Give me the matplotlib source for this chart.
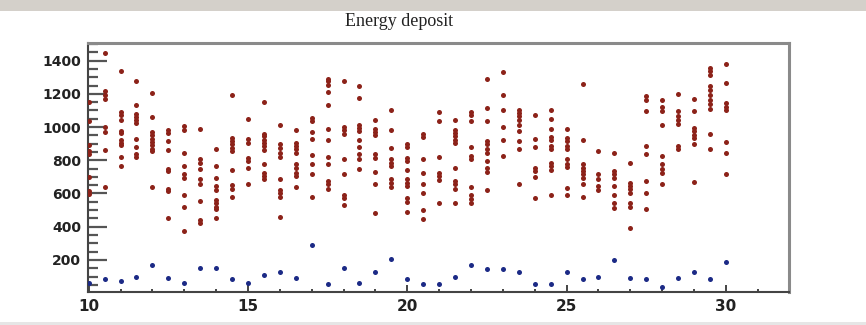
import matplotlib.pyplot as plt
from matplotlib.ticker import MultipleLocator
from matplotlib.patches import Rectangle

# beam position for each column of measurements
x_pos = [10.0, 10.5, 11.0, 11.5, 12.0, 12.5, 13.0, 13.5, 14.0, 14.5,
         15.0, 15.5, 16.0, 16.5, 17.0, 17.5, 18.0, 18.5, 19.0, 19.5,
         20.0, 20.5, 21.0, 21.5, 22.0, 22.5, 23.0, 23.5, 24.0, 24.5,
         25.0, 25.5, 26.0, 26.5, 27.0, 27.5, 28.0, 28.5, 29.0, 29.5, 30.0]

# deposits in the thick layer (several hits per position)
thick_hits = [
    [1150, 1035, 890, 855, 835, 700, 615, 595],
    [1445, 1215, 1195, 1170, 1000, 970, 860, 640],
    [1340, 1090, 1070, 1045, 975, 965, 925, 905, 890, 820, 765],
    [1275, 1135, 1080, 1060, 1040, 1025, 930, 880, 840, 820],
    [1205, 1060, 970, 950, 930, 910, 890, 870, 855, 640],
    [985, 965, 915, 860, 745, 735, 625, 615, 450],
    [1005, 985, 845, 765, 715, 695, 590, 520, 375],
    [990, 805, 785, 745, 685, 655, 555, 440, 420],
    [870, 765, 695, 645, 620, 560, 540, 520, 505, 450],
    [1190, 935, 915, 895, 875, 855, 740, 650, 630, 580],
    [1050, 930, 905, 815, 795, 755, 660],
    [1150, 960, 945, 925, 905, 885, 860, 775, 725, 705, 685],
    [1015, 895, 875, 845, 820, 690, 620, 600, 580, 460],
    [980, 905, 885, 865, 845, 780, 755, 725, 705, 640],
    [1055, 1035, 970, 930, 830, 775, 715, 580],
    [1290, 1275, 1255, 1210, 1135, 990, 925, 820, 775, 675, 655, 630],
    [1275, 1000, 980, 960, 810, 715, 590, 570, 530],
    [1250, 1175, 1015, 995, 975, 925, 880, 835, 810, 750],
    [1045, 990, 970, 950, 835, 815, 730, 660, 480],
    [1100, 980, 875, 805, 785, 765, 690, 665, 640],
    [900, 880, 815, 795, 740, 690, 665, 645, 570, 550, 490],
    [960, 940, 810, 725, 660, 600, 500, 445],
    [1090, 1035, 820, 725, 705, 680, 540],
    [1045, 985, 965, 945, 925, 905, 755, 675, 655, 625, 540],
    [1090, 1070, 1035, 880, 825, 805, 640, 590, 565, 540],
    [1290, 1115, 1035, 915, 895, 865, 845, 795, 755, 730, 620],
    [1330, 1195, 1105, 1000, 920, 825],
    [1105, 1085, 1065, 1040, 1015, 975, 915, 865, 660],
    [1070, 930, 880, 755, 735, 700, 570],
    [1105, 1050, 990, 940, 920, 885, 865, 785, 765, 740, 590],
    [990, 935, 915, 885, 865, 805, 780, 760, 635, 590],
    [1260, 925, 775, 755, 735, 715, 695, 655, 580],
    [855, 715, 690, 645, 620],
    [845, 735, 715, 695, 645, 590, 540, 510],
    [785, 665, 645, 625, 605, 540, 520, 395],
    [1185, 1165, 1095, 885, 835, 675, 605, 505],
    [1160, 1120, 1095, 1015, 825, 775, 750, 725, 655],
    [1200, 1095, 1065, 1045, 1020, 885, 865],
    [1170, 1095, 995, 975, 955, 935, 900, 670],
    [1355, 1335, 1315, 1245, 1225, 1195, 1165, 1140, 1110, 960, 870],
    [1380, 1265, 1145, 1120, 1100, 910, 845, 715],
]

# deposits in the thin layer (one hit per position)
thin_hits = [64, 84, 76, 100, 170, 90, 64, 154, 154, 84,
             64, 108, 128, 90, 287, 54, 154, 64, 128, 208,
             84, 54, 54, 100, 170, 144, 144, 128, 54, 54,
             128, 84, 100, 200, 90, 84, 36, 90, 128, 84, 190]

red = '#8c2219'
blue = '#1c2a86'

fig = plt.figure(figsize=(8.66, 3.25), dpi=100)
fig.patch.set_facecolor('white')

# grey bands at top and bottom of the canvas
fig.patches.append(Rectangle((0, 1 - 11 / 325), 1, 11 / 325, transform=fig.transFigure,
                             facecolor='#d4d0ca', edgecolor='none', zorder=0))
fig.patches.append(Rectangle((0, 0), 1, 3 / 325, transform=fig.transFigure,
                             facecolor='#e6e6e6', edgecolor='none', zorder=0))

ax = fig.add_axes([88 / 866, 33 / 325, 701 / 866, 249 / 325])

xs, ys = [], []
for xv, col in zip(x_pos, thick_hits):
    for v in col:
        xs.append(xv)
        ys.append(v)
ax.scatter(xs, ys, s=13, color=red, linewidths=0, zorder=3)
ax.scatter(x_pos, thin_hits, s=13, color=blue, linewidths=0, zorder=3)

ax.set_xlim(9.98, 31.98)
ax.set_ylim(7, 1506)

ax.xaxis.set_major_locator(MultipleLocator(5))
ax.xaxis.set_minor_locator(MultipleLocator(1))
ax.yaxis.set_major_locator(MultipleLocator(200))
ax.yaxis.set_minor_locator(MultipleLocator(50))
ax.set_yticks([200, 400, 600, 800, 1000, 1200, 1400])

ax.tick_params(axis='y', which='major', direction='in', length=14, width=1.6,
               color='#555555', pad=5, labelsize=10)
ax.tick_params(axis='y', which='minor', direction='in', length=7.5, width=1.6,
               color='#555555')
ax.tick_params(axis='x', which='major', direction='in', length=5, width=1.4,
               color='#444444', pad=5, labelsize=11)
ax.tick_params(axis='x', which='minor', direction='in', length=2.5, width=1.4,
               color='#444444')
for lab in ax.get_xticklabels() + ax.get_yticklabels():
    lab.set_fontweight('bold')
    lab.set_color('#222222')

for side in ('left', 'bottom'):
    ax.spines[side].set_color('#444444')
    ax.spines[side].set_linewidth(1.5)
for side in ('top', 'right'):
    ax.spines[side].set_color('#8a8a8a')
    ax.spines[side].set_linewidth(2.2)

fig.text(399 / 866, 1 - 26 / 325, 'Energy deposit', ha='center', va='baseline',
         family='Liberation Serif', fontsize=13, color='#222222')

fig.savefig('out.png', dpi=100)
